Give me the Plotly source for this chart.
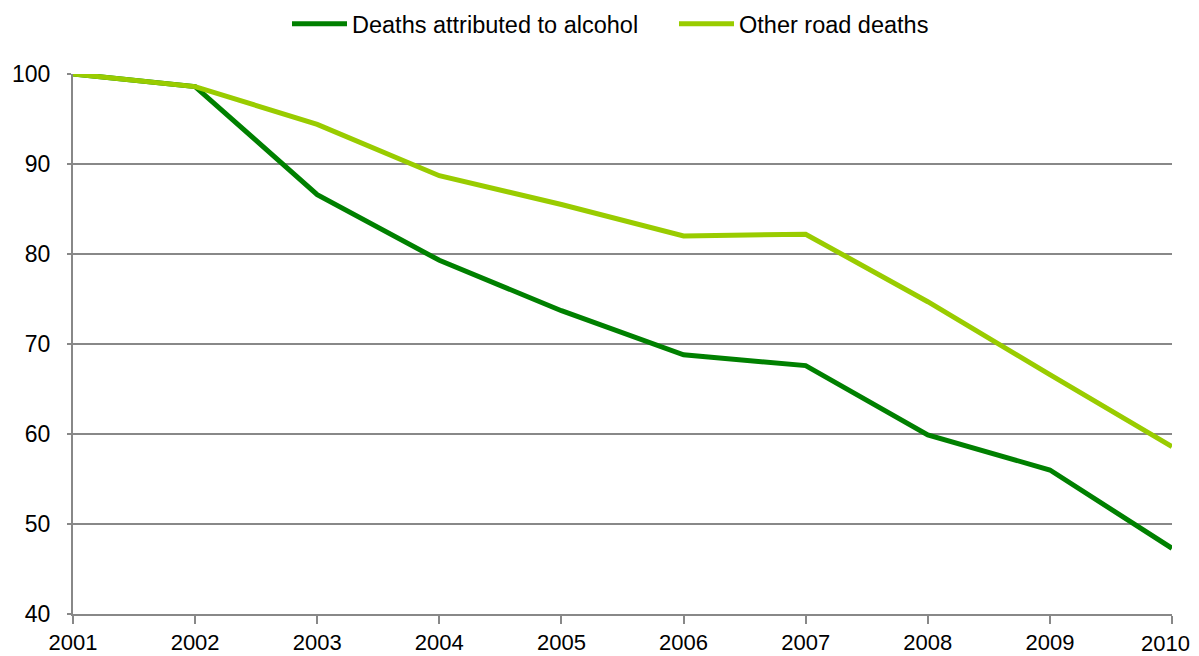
import plotly.graph_objects as go

years = [2001, 2002, 2003, 2004, 2005, 2006, 2007, 2008, 2009, 2010]
alcohol = [100, 98.6, 86.6, 79.3, 73.7, 68.8, 67.6, 59.9, 56.0, 47.3]
other = [100, 98.6, 94.4, 88.7, 85.5, 82.0, 82.2, 74.7, 66.6, 58.6]
yticks = [40, 50, 60, 70, 80, 90, 100]
xlabels = [str(y) for y in years]

# page body has an 8px offset; size the figure to fit the window
L, T = 65, 66
W, H = 1191, 648

fig = go.Figure()
fig.add_trace(go.Scatter(x=years, y=alcohol, mode="lines", name="Deaths attributed to alcohol",
                         line=dict(color="#008000", width=5)))
fig.add_trace(go.Scatter(x=years, y=other, mode="lines", name="Other road deaths",
                         line=dict(color="#99CC00", width=5)))

fig.update_layout(
    width=W, height=H,
    margin=dict(l=L, r=27, t=T, b=42, autoexpand=False),
    paper_bgcolor="white", plot_bgcolor="white",
    font=dict(family="Liberation Sans, Arial, sans-serif", size=23, color="#000000"),
    legend=dict(orientation="h", x=(289 - L - 10) / 1099, xanchor="left",
                y=1 - 16 / H, yanchor="middle", yref="container",
                font=dict(size=23.5), itemwidth=55, tracegroupgap=0,
                entrywidth=317, entrywidthmode="pixels"),
    showlegend=True,
)
# last x label drawn right-aligned so it stays inside the page
fig.add_annotation(x=years[-1], xref="x", y=0, yref="paper", text=xlabels[-1],
                   showarrow=False, xanchor="right", yanchor="top",
                   xshift=20, yshift=-15, font=dict(size=22))
fig.update_xaxes(range=[2001, 2010], tickmode="array", tickvals=years,
                 ticktext=xlabels[:-1] + [""], automargin=False,
                 tickfont=dict(size=22),
                 showgrid=False, showline=True, linecolor="#888888", linewidth=2,
                 ticks="outside", ticklen=8, tickcolor="#888888", tickwidth=2,
                 zeroline=False)
fig.update_yaxes(range=[40, 100], tickmode="array", tickvals=yticks, automargin=False,
                 showgrid=True, gridcolor="#888888", gridwidth=1.5,
                 showline=True, linecolor="#888888", linewidth=2,
                 ticks="outside", ticklen=4, tickcolor="#888888", tickwidth=2,
                 ticklabelstandoff=12, zeroline=False)

fig.write_html("out.html")
